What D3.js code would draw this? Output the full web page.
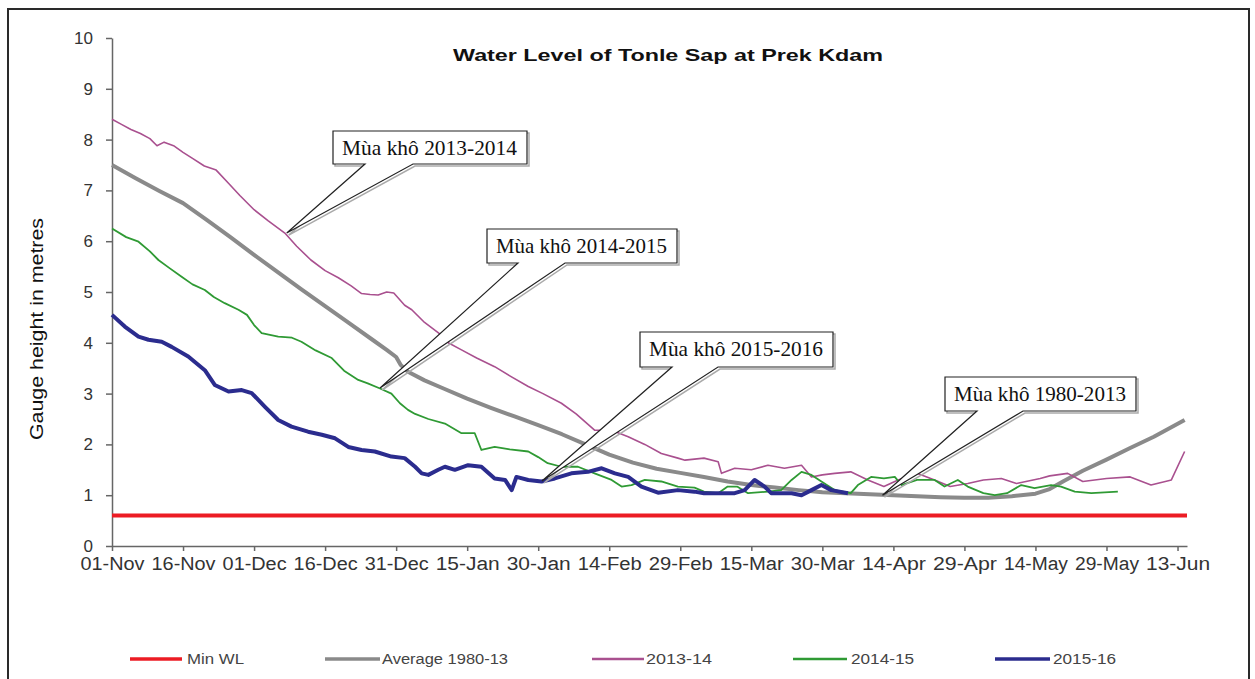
<!DOCTYPE html>
<html>
<head>
<meta charset="utf-8">
<script src="https://cdn.jsdelivr.net/npm/d3@7"></script>
<style>
	body { margin: 0; background: #fff; }
	svg { display: block; }
</style>
</head>
<body>
<div id="chart"></div>
<script>
// day index counted from 01-Nov, value = gauge height (m)
const xTickLabels = ['01-Nov', '16-Nov', '01-Dec', '16-Dec', '31-Dec', '15-Jan', '30-Jan', '14-Feb',
	'29-Feb', '15-Mar', '30-Mar', '14-Apr', '29-Apr', '14-May', '29-May', '13-Jun'];
const yTicks = [0, 1, 2, 3, 4, 5, 6, 7, 8, 9, 10];
const lastDay = 227;
const minWL = 0.6;

const average = [[0, 7.5], [5, 7.24], [10, 6.99], [15, 6.75], [20, 6.42], [25, 6.08], [30, 5.73],
	[35, 5.39], [40, 5.05], [45, 4.72], [50, 4.39], [55, 4.06], [58, 3.86], [60, 3.72], [61, 3.56],
	[62.5, 3.43], [66, 3.26], [70, 3.1], [75, 2.9], [80, 2.72], [85, 2.55], [90, 2.38], [95, 2.2],
	[100, 2.0], [105, 1.8], [110, 1.64], [115, 1.52], [120, 1.44], [125, 1.36], [130, 1.27], [135, 1.2],
	[140, 1.15], [145, 1.1], [150, 1.06], [155, 1.04], [160, 1.02], [165, 1.0], [170, 0.98],
	[175, 0.96], [180, 0.95], [185, 0.95], [190, 0.98], [195, 1.03], [198, 1.12], [201, 1.28],
	[205, 1.48], [210, 1.7], [215, 1.93], [220, 2.15], [226.5, 2.48]];

const s2013 = [[0, 8.4], [2, 8.3], [4, 8.2], [6, 8.12], [8, 8.02], [9.5, 7.88], [11, 7.95], [13, 7.88],
	[15, 7.75], [17, 7.63], [19.5, 7.48], [22, 7.4], [24.5, 7.15], [27, 6.9], [30, 6.62], [33, 6.4],
	[36.5, 6.16], [39, 5.9], [42, 5.63], [45, 5.42], [47.8, 5.28], [50.5, 5.12], [52.7, 4.97],
	[54.5, 4.95], [56.2, 4.94], [58, 5.0], [59.5, 4.98], [61.8, 4.74], [63.3, 4.65], [66, 4.4],
	[69, 4.19], [71, 4.0], [73.8, 3.86], [77, 3.7], [80.8, 3.53], [84, 3.35], [87.9, 3.14], [91, 3.0],
	[94.9, 2.81], [98, 2.6], [101.9, 2.28], [105.5, 2.28], [109, 2.15], [112.5, 2.0], [116, 1.82],
	[119.5, 1.73], [121, 1.69], [125, 1.73], [128, 1.66], [128.7, 1.43], [131.5, 1.53], [135, 1.5],
	[138.5, 1.59], [142, 1.53], [145.6, 1.59], [147.7, 1.36], [150, 1.4], [152.6, 1.43], [156, 1.46],
	[159.6, 1.3], [163, 1.17], [166, 1.3], [170, 1.43], [173.7, 1.3], [177, 1.17], [180.7, 1.23],
	[184, 1.3], [187.8, 1.33], [191, 1.23], [196, 1.33], [198, 1.38], [201.8, 1.43], [205, 1.27],
	[210, 1.33], [215, 1.36], [219.4, 1.2], [223.7, 1.3], [226.5, 1.86]];

const s2014 = [[0, 6.25], [3, 6.08], [5.6, 5.99], [8, 5.8], [9.8, 5.63], [12, 5.48], [14.7, 5.3],
	[17, 5.15], [19.6, 5.04], [21.5, 4.9], [23.8, 4.78], [26.7, 4.65], [28.5, 4.55], [30, 4.35],
	[31.6, 4.19], [35.1, 4.12], [38, 4.1], [40, 4.02], [43, 3.85], [46.4, 3.7], [49, 3.45], [52, 3.27],
	[54, 3.2], [56.6, 3.1], [59, 3.0], [60.8, 2.81], [62.5, 2.68], [64, 2.6], [66.8, 2.5], [70.3, 2.41],
	[73.8, 2.22], [76.6, 2.22], [78, 1.89], [80.8, 1.95], [84, 1.9], [87.9, 1.86], [90, 1.75],
	[92, 1.63], [94.9, 1.56], [98.4, 1.56], [101.9, 1.43], [105.5, 1.3], [107.6, 1.17], [109.7, 1.2],
	[112.5, 1.3], [116, 1.27], [119.5, 1.17], [123, 1.15], [125, 1.07], [128, 1.04], [130, 1.17],
	[132, 1.17], [134.3, 1.04], [138.5, 1.07], [141.3, 1.1], [143.5, 1.3], [145.6, 1.46], [147.7, 1.4],
	[149.8, 1.27], [152.6, 1.1], [156, 1.04], [157.5, 1.2], [160.3, 1.36], [163, 1.33], [165.3, 1.36],
	[166.7, 1.2], [170, 1.3], [173.7, 1.3], [175.8, 1.17], [178.6, 1.3], [180.7, 1.17], [184, 1.04],
	[186.4, 1.0], [189, 1.04], [192, 1.2], [194.8, 1.14], [198.3, 1.2], [200.4, 1.17], [203.3, 1.07],
	[206.8, 1.04], [212.4, 1.07]];

const s2015 = [[0, 4.55], [2.7, 4.32], [5.6, 4.12], [7.7, 4.06], [10.5, 4.02], [12.6, 3.92], [16.1, 3.73],
	[19.6, 3.46], [21.7, 3.17], [24.6, 3.04], [27.4, 3.07], [29.5, 3.01], [32.3, 2.74], [35.1, 2.48],
	[37.9, 2.35], [41.4, 2.25], [44.3, 2.19], [47.1, 2.12], [49.9, 1.95], [52.7, 1.89], [55.5, 1.86],
	[59, 1.76], [61.8, 1.73], [64, 1.56], [65.4, 1.43], [66.8, 1.4], [68.9, 1.5], [70.3, 1.56],
	[72.4, 1.5], [75.2, 1.59], [78, 1.56], [80.8, 1.33], [83, 1.3], [84.4, 1.1], [85.4, 1.36],
	[87.9, 1.3], [90.7, 1.27], [93.5, 1.33], [97, 1.43], [100.5, 1.46], [103.4, 1.53], [106.2, 1.43],
	[109, 1.36], [111.8, 1.17], [115.3, 1.05], [119.5, 1.1], [123, 1.07], [125, 1.04], [131.5, 1.04],
	[133.6, 1.1], [135.7, 1.3], [137.8, 1.17], [139.2, 1.04], [143.5, 1.04], [145.6, 1.0], [147.7, 1.1],
	[149.8, 1.2], [151.9, 1.1], [155.4, 1.04]];

const seriesNames = ['Min WL', 'Average 1980-13', '2013-14', '2014-15', '2015-16'];
const callouts = [
	{ text: 'Mùa khô 2013-2014', at: [36.9, 6.16] },
	{ text: 'Mùa khô 2014-2015', at: [56.6, 3.11] },
	{ text: 'Mùa khô 2015-2016', at: [90.8, 1.28] },
	{ text: 'Mùa khô 1980-2013', at: [162.7, 1.0] }
];

const width = 1255;
const height = 679;
const plot = { left: 112, right: 1187, top: 38, bottom: 546 };

const svg = d3.select('#chart').append('svg').attr('width', width).attr('height', height);

svg.append('rect').attr('width', width).attr('height', height).attr('fill', '#fff');
// outer frame (bottom edge is cut off in the source)
svg.append('path')
	.attr('d', `M8,${height + 5}V9H1249V${height + 5}`)
	.attr('fill', 'none')
	.attr('stroke', '#2a2a2a')
	.attr('stroke-width', 2);

const x = d3.scaleLinear().domain([0, lastDay]).range([plot.left, plot.right]);
const y = d3.scaleLinear().domain([0, 10]).range([plot.bottom, plot.top]);

const xAxis = d3.axisBottom(x)
	.tickValues(xTickLabels.map((d, i) => i * 15))
	.tickFormat((d, i) => xTickLabels[i])
	.tickSize(5)
	.tickSizeOuter(0)
	.tickPadding(6);

const yAxis = d3.axisLeft(y).tickValues(yTicks).tickSize(6).tickSizeOuter(0).tickPadding(13);

const gx = svg.append('g').attr('transform', `translate(0,${plot.bottom})`).call(xAxis);
const gy = svg.append('g').attr('transform', `translate(${plot.left},0)`).call(yAxis);

[gx, gy].forEach(g => {
	g.select('.domain').attr('stroke', '#666').attr('stroke-width', 1.5);
	g.selectAll('.tick line').attr('stroke', '#666').attr('stroke-width', 1.5);
	g.selectAll('text').attr('fill', '#333').attr('font-family', 'Arial, "Liberation Sans", sans-serif');
});
gx.selectAll('text').attr('font-size', 18).attr('textLength', 64).attr('lengthAdjust', 'spacingAndGlyphs');
gy.selectAll('text').attr('font-size', 17);

svg.append('text')
	.attr('x', 668)
	.attr('y', 61)
	.attr('text-anchor', 'middle')
	.attr('font-family', 'Arial, "Liberation Sans", sans-serif')
	.attr('font-weight', 'bold')
	.attr('font-size', 17)
	.attr('textLength', 430)
	.attr('lengthAdjust', 'spacingAndGlyphs')
	.attr('fill', '#111')
	.text('Water Level of Tonle Sap at Prek Kdam');

svg.append('text')
	.attr('transform', 'translate(43,329) rotate(-90)')
	.attr('text-anchor', 'middle')
	.attr('font-family', 'Arial, "Liberation Sans", sans-serif')
	.attr('font-size', 19)
	.attr('textLength', 222)
	.attr('lengthAdjust', 'spacingAndGlyphs')
	.attr('fill', '#111')
	.text('Gauge height in metres');

const line = d3.line().x(d => x(d[0])).y(d => y(d[1]));

const series = [
	{ data: [[0, minWL], [lastDay, minWL]], color: '#ec1c24', w: 4 },
	{ data: average, color: '#8a8a8a', w: 4 },
	{ data: s2013, color: '#a9508f', w: 1.6 },
	{ data: s2014, color: '#2f9a34', w: 1.8 },
	{ data: s2015, color: '#2b2c8e', w: 4 }
];

series.forEach(s => {
	svg.append('path')
		.datum(s.data)
		.attr('fill', 'none')
		.attr('stroke', s.color)
		.attr('stroke-width', s.w)
		.attr('stroke-linejoin', 'round')
		.attr('d', line);
});

// wedge callouts
const boxes = [
	{ x0: 333, y0: 131, x1: 527, y1: 164, p0: 365, p1: 413 },
	{ x0: 487, y0: 229, x1: 677, y1: 263, p0: 518, p1: 565 },
	{ x0: 640, y0: 332, x1: 833, y1: 367, p0: 672, p1: 718 },
	{ x0: 945, y0: 377, x1: 1136, y1: 411, p0: 977, p1: 1023 }
];

callouts.forEach((c, i) => {
	const b = boxes[i];
	const tx = x(c.at[0]);
	const ty = y(c.at[1]);
	const shape = `M${b.x0},${b.y0}H${b.x1}V${b.y1}H${b.p1}L${tx},${ty}L${b.p0},${b.y1}H${b.x0}Z`;
	svg.append('path')
		.attr('d', shape)
		.attr('transform', 'translate(2,2)')
		.attr('fill', 'none')
		.attr('stroke', '#aaa')
		.attr('stroke-width', 1.5);
	svg.append('path')
		.attr('d', shape)
		.attr('fill', '#fff')
		.attr('stroke', '#222')
		.attr('stroke-width', 1.2);
	svg.append('text')
		.attr('x', b.x0 + 9)
		.attr('y', b.y0 + 24)
		.attr('font-family', '"Liberation Serif", "Times New Roman", serif')
		.attr('font-size', 22)
		.attr('textLength', b.x1 - b.x0 - 19)
		.attr('lengthAdjust', 'spacingAndGlyphs')
		.attr('fill', '#111')
		.text(c.text);
});

// legend
const legendY = 659;
const legendItems = [
	{ x0: 130, x1: 182, tx: 187, tw: 57 },
	{ x0: 325, x1: 380, tx: 382, tw: 126 },
	{ x0: 592, x1: 644, tx: 646, tw: 66 },
	{ x0: 793, x1: 847, tx: 851, tw: 63 },
	{ x0: 995, x1: 1050, tx: 1053, tw: 63 }
];

legendItems.forEach((l, i) => {
	svg.append('line')
		.attr('x1', l.x0).attr('x2', l.x1)
		.attr('y1', legendY).attr('y2', legendY)
		.attr('stroke', series[i].color)
		.attr('stroke-width', Math.max(series[i].w - 0.5, 2.5));
	svg.append('text')
		.attr('x', l.tx)
		.attr('y', legendY + 5)
		.attr('font-family', 'Arial, "Liberation Sans", sans-serif')
		.attr('font-size', 14)
		.attr('textLength', l.tw)
		.attr('lengthAdjust', 'spacingAndGlyphs')
		.attr('fill', '#444')
		.text(seriesNames[i]);
});
</script>
</body>
</html>
